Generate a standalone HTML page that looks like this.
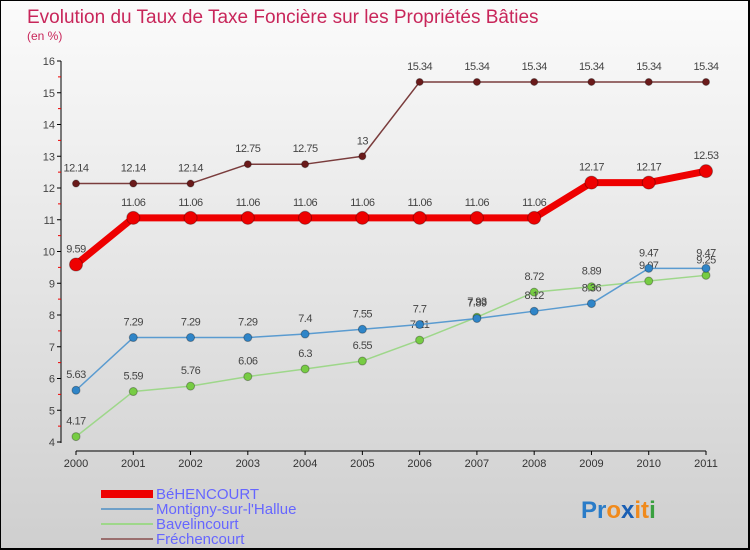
<!DOCTYPE html>
<html><head><meta charset="utf-8"><style>
body{margin:0}
#c{width:750px;height:550px;position:relative;box-sizing:border-box;border:1px solid #000;border-right:2px solid #000;border-bottom:2px solid #000;background:linear-gradient(#fbfbfb,#cfcfcf);font-family:"Liberation Sans",sans-serif;overflow:hidden}
svg text{font-family:"Liberation Sans",sans-serif}
</style></head><body>
<div id="c">
<svg width="750" height="550">
<text x="26" y="22" font-size="19" fill="#c8265a">Evolution du Taux de Taxe Foncière sur les Propriétés Bâties</text>
<text x="26" y="39" font-size="12" fill="#c8265a">(en %)</text>
<g id="axes"></g><g id="series"></g>
<g>
<rect x="100" y="489" width="52" height="8" fill="#ee0000"/>
<text x="155" y="498" font-size="15" fill="#6666ff">BéHENCOURT</text>
<line x1="100" y1="508" x2="152" y2="508" stroke="#6fa0c8" stroke-width="2"/>
<text x="155" y="513" font-size="15" fill="#6666ff">Montigny-sur-l'Hallue</text>
<line x1="100" y1="523" x2="152" y2="523" stroke="#9ed78a" stroke-width="2"/>
<text x="155" y="528" font-size="15" fill="#6666ff">Bavelincourt</text>
<line x1="100" y1="538" x2="152" y2="538" stroke="#9a6f6f" stroke-width="2"/>
<text x="155" y="543" font-size="15" fill="#6666ff">Fréchencourt</text>
</g>
<text x="580" y="517" font-size="24" font-weight="bold"><tspan fill="#2a7cc8">Pr</tspan><tspan fill="#f08a1c">o</tspan><tspan fill="#1a5fb4">x</tspan><tspan fill="#f08a1c">it</tspan><tspan fill="#3aa040">i</tspan></text>
</svg>
</div>
<script>
const years=[2000,2001,2002,2003,2004,2005,2006,2007,2008,2009,2010,2011];
const yTicks=[4,5,6,7,8,9,10,11,12,13,14,15,16];
const behencourt=[9.59,11.06,11.06,11.06,11.06,11.06,11.06,11.06,11.06,12.17,12.17,12.53];
const montigny=[5.63,7.29,7.29,7.29,7.4,7.55,7.7,7.89,8.12,8.36,9.47,9.47];
const bavelincourt=[4.17,5.59,5.76,6.06,6.3,6.55,7.21,7.93,8.72,8.89,9.07,9.25];
const frechencourt=[12.14,12.14,12.14,12.75,12.75,13,15.34,15.34,15.34,15.34,15.34,15.34];
const NS='http://www.w3.org/2000/svg';
const xs=i=>75+i*(630/(years.length-1));
const ys=v=>441-(v-4)*(381/12);
function mk(t,a,p){const e=document.createElementNS(NS,t);for(const k in a)e.setAttribute(k,a[k]);p.appendChild(e);return e;}
const ax=document.getElementById('axes');
let l=mk('line',{x1:60,y1:ys(16),x2:60,y2:ys(4)+1,stroke:'#000'},ax);


l=mk('line',{x1:75,y1:450,x2:705,y2:450,stroke:'#000'},ax);


yTicks.forEach((v,i)=>{
 mk('line',{x1:56,y1:ys(v),x2:60,y2:ys(v),stroke:'#000'},ax);
 if(i<yTicks.length-1)mk('line',{x1:57,y1:ys(v+0.5),x2:60,y2:ys(v+0.5),stroke:'#e00'},ax);
 const t=mk('text',{x:54,y:ys(v)+4,'font-size':11,'text-anchor':'end',fill:'#444'},ax);
 t.textContent=v;
 
 
});
years.forEach((y,i)=>{
 mk('line',{x1:xs(i),y1:450,x2:xs(i),y2:454,stroke:'#000'},ax);
 const t=mk('text',{x:xs(i),y:466,'font-size':11,'text-anchor':'middle',fill:'#333'},ax);
 t.textContent=y;
 
 
});
const sg=document.getElementById('series');
function draw(name,data,color,w,r,fill){
 const g=mk('g',{},sg);
 
 
 const p=mk('polyline',{points:data.map((v,i)=>xs(i)+','+ys(v)).join(' '),fill:'none',stroke:color,'stroke-width':w,'stroke-linejoin':'round'},g);
 
 
 data.forEach((v,i)=>{
  const c=mk('circle',{cx:xs(i),cy:ys(v),r:r,fill:fill,stroke:'rgba(0,0,0,0.3)','stroke-width':1},g);
  
  
  const t=mk('text',{x:xs(i),y:ys(v)-12,'font-size':11,'text-anchor':'middle',fill:'#444','letter-spacing':'-0.5'},g);
  t.textContent=v;
  
  
 });
}
draw('frechencourt',frechencourt,'#7a3c3c',1.5,3.5,'#6a1a1a');
draw('bavelincourt',bavelincourt,'#9ed78a',1.5,4,'#77cc44');
draw('montigny',montigny,'#5a9bd0',1.5,4,'#2f85c8');
draw('behencourt',behencourt,'#ee0000',7,6.5,'#ee0000');
</script>
</body></html>
